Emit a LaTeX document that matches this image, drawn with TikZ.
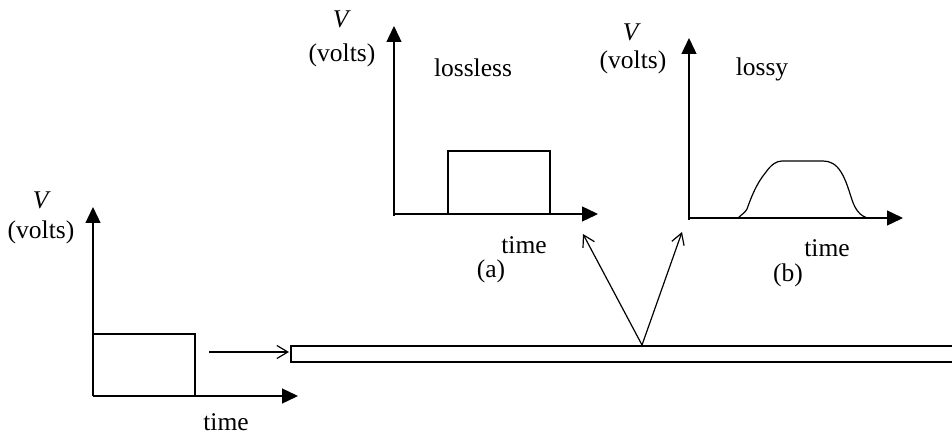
\documentclass[tikz,border=0pt]{standalone}
\usepackage{fontspec}
\setmainfont{Liberation Serif}
\usetikzlibrary{arrows.meta}
\begin{document}
\begin{tikzpicture}[x=1pt,y=-1pt,
  line width=1.3pt,
  axis/.style={-{Triangle[length=16pt,width=15pt]}},
  sig/.style={line width=1.2pt},
  openarr/.style={line width=1.2pt,-{Straight Barb[length=11pt,width=13pt,line width=1.2pt]}},
  lbl/.style={inner sep=0pt,font=\fontsize{25.5}{30}\selectfont}]
\useasboundingbox (0,0) rectangle (952,435);
% bottom-left graph
\coordinate (o1) at (93,396);
\coordinate (y1) at (93,207);
\coordinate (x1) at (298,396);
\draw[axis] (o1) -- (y1);
\draw[axis] (o1) -- (x1);
\draw[sig] (93,396) -- (93,334) -- (195,334) -- (195,396);
\node[lbl] (v1) at (42,200) {\textit{V}};
\node[lbl] (u1) at (41,232) {(volts)};
\node[lbl] (t1) at (226,422) {time};
% input arrow and line
\coordinate (ia) at (209,352);
\coordinate (ib) at (289,352);
\draw[openarr] (ia) -- (ib);
\coordinate (la) at (291,346);
\coordinate (lb) at (291,362);
\draw[line width=1.2pt] (960,346) -- (la) -- (lb) -- (960,362);
% reflection arrows
\coordinate (apex) at (642,345);
\coordinate (ta) at (583,234);
\coordinate (tb) at (682,232);
\draw[openarr] (apex) -- (ta);
\draw[openarr] (apex) -- (tb);
% graph (a)
\coordinate (o2) at (394,214);
\draw[axis] (394,216) -- (394,26);
\draw[axis] (o2) -- (598,214);
\draw[sig] (448,214) -- (448,151) -- (550,151) -- (550,214);
\node[lbl] (v2) at (342,19) {\textit{V}};
\node[lbl] (u2) at (342,55) {(volts)};
\node[lbl] (n2) at (473,68) {lossless};
\node[lbl] (t2) at (524,245) {time};
\node[lbl] (c2) at (491,271) {(a)};
% graph (b)
\coordinate (o3) at (689,218);
\draw[axis] (689,220) -- (689,38);
\draw[axis] (o3) -- (903,218);
\draw[sig] (738,218) .. controls (742,214) and (745,213) .. (747,209)
  .. controls (751,198) and (756,184) .. (766,172)
  .. controls (771,165) and (776,161) .. (782,161)
  -- (823,161)
  .. controls (830,161) and (836,164) .. (841,172)
  .. controls (848,183) and (851,200) .. (855,207)
  .. controls (858,213) and (862,216) .. (867,218);
\node[lbl] (v3) at (632,32) {\textit{V}};
\node[lbl] (u3) at (633,62) {(volts)};
\node[lbl] (n3) at (762,69) {lossy};
\node[lbl] (t3) at (827,248) {time};
\node[lbl] (c3) at (788,275) {(b)};
\end{tikzpicture}
\end{document}
